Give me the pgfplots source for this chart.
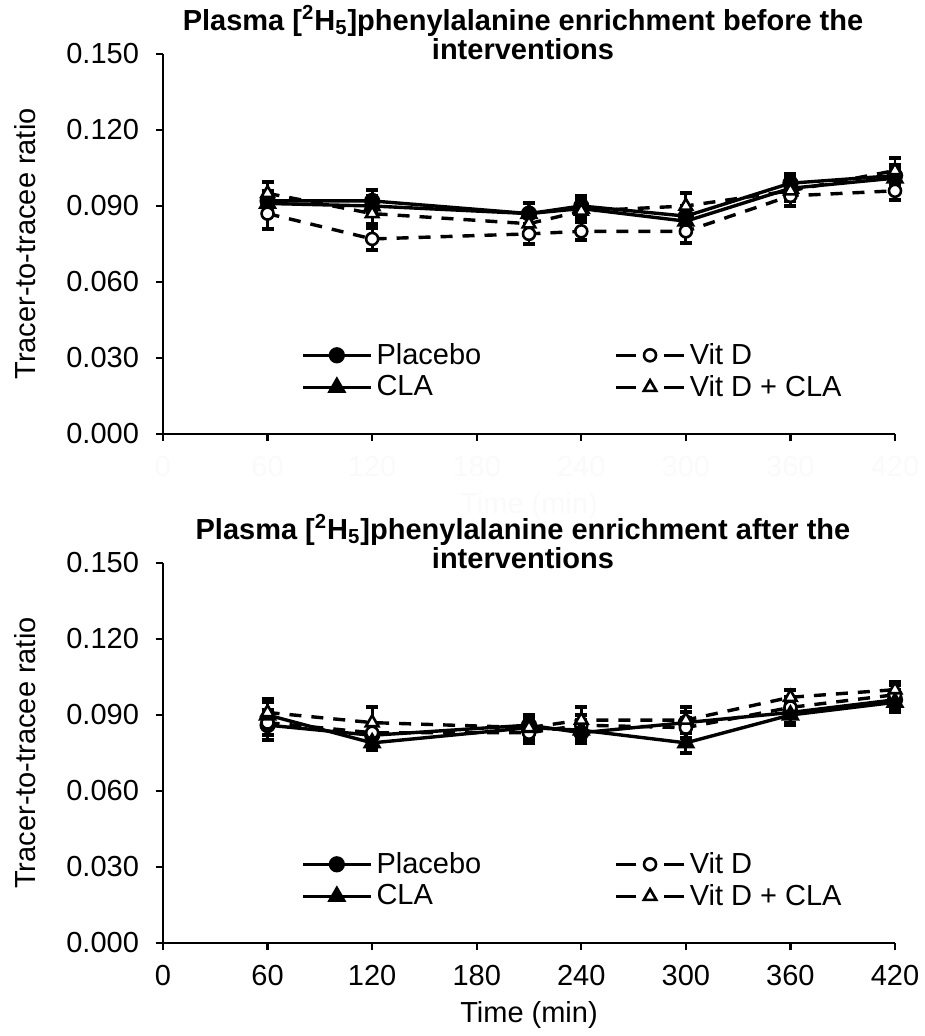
\documentclass[border=0pt]{standalone}
\usepackage{fontspec}
\setmainfont{Liberation Sans}
\usepackage{pgfplots}
\usepackage{pgfplotstable}
\pgfplotsset{compat=1.18}

% before the interventions
\pgfplotstableread{
t   pla   plae   cla   clae   vd    vde    vdc   vdce
60  0.092 0.004  0.091 0.004  0.087 0.006  0.095 0.0045
120 0.092 0.0045 0.090 0.004  0.077 0.0045 0.087 0.004
210 0.087 0.004  0.087 0.004  0.079 0.004  0.083 0.004
240 0.090 0.004  0.089 0.004  0.080 0.0035 0.088 0.004
300 0.086 0.004  0.084 0.004  0.080 0.0045 0.090 0.005
360 0.099 0.0035 0.097 0.004  0.094 0.004  0.096 0.004
420 0.102 0.004  0.101 0.004  0.096 0.0035 0.104 0.005
}\topdata

% after the interventions
\pgfplotstableread{
t   pla   plae   cla   clae   vd    vde    vdc   vdce
60  0.086 0.006  0.090 0.005  0.087 0.005  0.091 0.0055
120 0.082 0.004  0.079 0.003  0.083 0.004  0.087 0.006
210 0.086 0.004  0.085 0.004  0.083 0.004  0.085 0.005
240 0.083 0.004  0.084 0.004  0.086 0.004  0.088 0.005
300 0.087 0.004  0.079 0.004  0.085 0.004  0.088 0.005
360 0.091 0.004  0.090 0.004  0.093 0.004  0.097 0.003
420 0.096 0.004  0.095 0.004  0.098 0.004  0.100 0.003
}\botdata

\pgfplotsset{
  panel/.style={
    scale only axis, width=366pt, height=190pt,
    xmin=0, xmax=420, ymin=0, ymax=0.15,
    xtick={0,60,...,420},
    ytick={0,0.03,0.06,0.09,0.12,0.15},
    axis x line=bottom, axis y line=left,
    axis line style={line width=1.2pt,-},
    tick align=outside, major tick length=3.5pt,
    every tick/.style={line width=1.2pt,black},
    tick label style={font=\fontsize{14.5}{16}\selectfont},
    /pgf/number format/assume math mode=true,
    yticklabel style={/pgf/number format/fixed,/pgf/number format/fixed zerofill,
      /pgf/number format/precision=3,xshift=-5pt},
    xticklabel style={/pgf/number format/fixed,yshift=-4pt},
    ylabel={Tracer-to-tracee ratio},
    ylabel style={at={(axis description cs:-0.1885,0.5)},anchor=center,
      font=\fontsize{14.5}{16}\selectfont},
    xlabel={Time (min)},
    xlabel style={font=\fontsize{14.5}{16}\selectfont,yshift=-1pt},
    title style={at={(0.5,1)},anchor=south,inner sep=0pt,yshift=-9pt,xshift=-3pt,
      align=center,font=\bfseries\fontsize{14.5}{14.5}\selectfont},
    clip=false,
    legend columns=2,
    legend cell align=left,
    legend style={draw=none,fill=none,at={(axis description cs:0.18,0.165)},anchor=west,
      font=\fontsize{14.5}{16}\selectfont,row sep=0pt,
      /tikz/every even column/.append style={column sep=64.5pt}},
    legend image code/.code={\draw[mark repeat=2,mark phase=2,#1]
      plot coordinates {(0pt,0pt) (17pt,0pt) (34pt,0pt)};},
    error bars/y dir=both, error bars/y explicit,
    error bars/error bar style={line width=1.4pt,solid},
    error bars/error mark options={line width=2pt,mark size=3pt,rotate=90},
  },
  pla/.style={black,line width=1.7pt,solid,mark=*,mark size=3.2pt,
    mark options={solid,fill=black}},
  cla/.style={black,line width=1.7pt,solid,mark=triangle*,mark size=3.8pt,
    mark options={solid,fill=black}},
  dashleg/.style={legend image code/.code={\draw[mark repeat=2,mark phase=2,##1,
      dash pattern=on 10pt off 14pt] plot coordinates {(0pt,0pt) (17pt,0pt) (34pt,0pt)};}},
  vd/.style={black,line width=1.7pt,dash pattern=on 6pt off 5pt,mark=*,mark size=3pt,
    mark options={solid,fill=white,line width=1.3pt},dashleg},
  vdc/.style={black,line width=1.7pt,dash pattern=on 6pt off 5pt,mark=triangle*,mark size=3.6pt,
    mark options={solid,fill=white,line width=1.3pt},dashleg},
}

\begin{document}
\begin{tikzpicture}
\path[use as bounding box] (0,0) rectangle (462pt,-518pt);

\begin{axis}[panel, at={(81.5pt,-217pt)}, anchor=south west,
  title={Plasma [\textsuperscript{2}H\textsubscript{5}]phenylalanine enrichment before the\\interventions},
  xticklabel style={/tikz/text=black!2},
  xlabel style={/tikz/text=black!2}]
\addplot[pla] table[x=t,y=pla,y error=plae] \topdata;
\addlegendentry{Placebo}
\addplot[vd] table[x=t,y=vd,y error=vde] \topdata;
\addlegendentry{Vit D}
\addplot[cla] table[x=t,y=cla,y error=clae] \topdata;
\addlegendentry{CLA}
\addplot[vdc] table[x=t,y=vdc,y error=vdce] \topdata;
\addlegendentry{Vit D + CLA}
\end{axis}

\begin{axis}[panel, at={(81.5pt,-471.5pt)}, anchor=south west,
  title={Plasma [\textsuperscript{2}H\textsubscript{5}]phenylalanine enrichment after the\\interventions}]
\addplot[pla] table[x=t,y=pla,y error=plae] \botdata;
\addlegendentry{Placebo}
\addplot[vd] table[x=t,y=vd,y error=vde] \botdata;
\addlegendentry{Vit D}
\addplot[cla] table[x=t,y=cla,y error=clae] \botdata;
\addlegendentry{CLA}
\addplot[vdc] table[x=t,y=vdc,y error=vdce] \botdata;
\addlegendentry{Vit D + CLA}
\end{axis}
\end{tikzpicture}
\end{document}
